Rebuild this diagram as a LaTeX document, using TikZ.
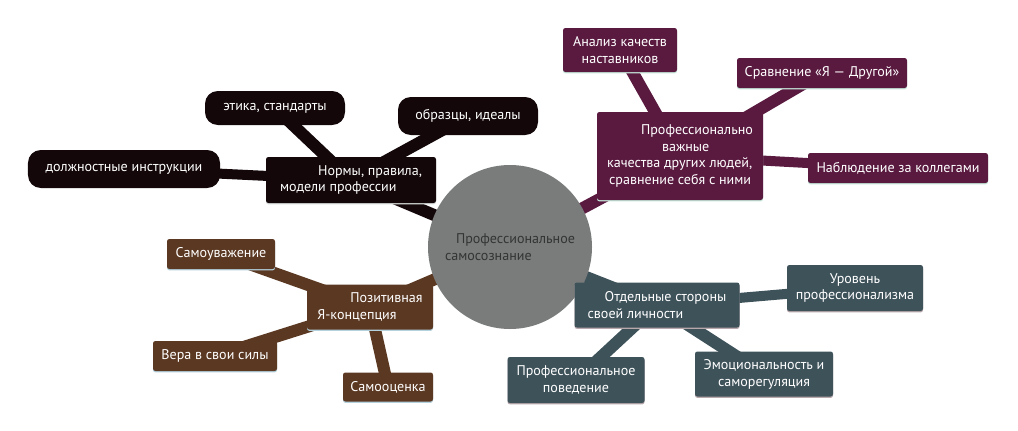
\documentclass[tikz,border=0pt]{standalone}
\usepackage{fontspec}
\setmainfont{PT Sans}
\usetikzlibrary{backgrounds,shadows}
\definecolor{normcol}{HTML}{130709}
\definecolor{qualcol}{HTML}{5A1A40}
\definecolor{selfcol}{HTML}{5B3822}
\definecolor{sidecol}{HTML}{3E525A}
\definecolor{hubcol}{HTML}{7A7C7C}
\definecolor{hubtext}{HTML}{333535}
\definecolor{normline}{HTML}{D8DCDC}
\definecolor{qualline}{HTML}{C4E6D8}
\definecolor{selfline}{HTML}{B4D2DE}
\definecolor{sideline}{HTML}{B8A8AC}
\begin{document}
\begin{tikzpicture}[x=0.25mm, y=-0.25mm,
    every node/.style={font=\fontsize{10}{12}\selectfont, text=white, inner sep=0.5mm},
    hub/.style={circle, fill=hubcol, text=hubtext, minimum size=41mm, align=left},
    roundbox/.style={rectangle, rounded corners=3.2mm, fill=normcol, align=center},
    normbox/.style={rectangle, rounded corners=0.6mm, fill=normcol, align=left,
      general shadow={shadow yshift=-1pt, fill=normline}},
    qualbox/.style={rectangle, rounded corners=0.6mm, fill=qualcol, align=center,
      general shadow={shadow yshift=-1pt, fill=qualline}},
    selfbox/.style={rectangle, rounded corners=0.6mm, fill=selfcol, align=center,
      general shadow={shadow yshift=-1pt, fill=selfline}},
    sidebox/.style={rectangle, rounded corners=0.6mm, fill=sidecol, align=center,
      general shadow={shadow yshift=-1pt, fill=sideline}},
    link/.style={line width=3mm}]
  \useasboundingbox (0,0) rectangle (1018,430);
  % centre
  \node[hub] (core) at (510,247) {\hspace*{2.75mm}Профессиональное\\самосознание};
  % norms
  \node[normbox, minimum width=42.5mm, minimum height=11.5mm] (norms) at (351,180)
    {\hspace*{9.5mm}Нормы, правила,\\модели профессии};
  \node[roundbox, minimum width=35mm, minimum height=8.5mm] (ethics) at (275,108) {этика, стандарты};
  \node[roundbox, minimum width=35mm, minimum height=9.5mm] (ideals) at (468,116) {образцы, идеалы};
  \node[roundbox, minimum width=48mm, minimum height=9.5mm] (duties) at (124,169) {должностные инструкции};
  % qualities of others
  \node[qualbox, minimum width=41.5mm, minimum height=22mm, align=left] (others) at (680,156)
    {\hspace*{8.5mm}Профессионально\\\hspace*{13.75mm}важные\\качества других людей,\\\hspace*{0.5mm}сравнение себя с ними};
  \node[qualbox, minimum width=28.5mm, minimum height=11mm] (mentors) at (620,50) {Анализ качеств\\наставников};
  \node[qualbox, minimum width=42.5mm, minimum height=7.5mm] (compare) at (822,73) {Сравнение «Я — Другой»};
  \node[qualbox, minimum width=45mm, minimum height=7.5mm] (watch) at (898,168) {Наблюдение за коллегами};
  % self-concept
  \node[selfbox, minimum width=31.5mm, minimum height=11.25mm, align=left] (concept) at (370,307)
    {\hspace*{8.25mm}Позитивная\\Я-концепция};
  \node[selfbox, minimum width=27mm, minimum height=7.5mm] (respect) at (221,254) {Самоуважение};
  \node[selfbox, minimum width=31mm, minimum height=7.5mm] (faith) at (215,356) {Вера в свои силы};
  \node[selfbox, minimum width=22.5mm, minimum height=7.25mm] (rating) at (388,387) {Самооценка};
  % sides of personality
  \node[sidebox, minimum width=41.25mm, minimum height=11.25mm, align=left] (sides) at (657,305)
    {\hspace*{4.25mm}Отдельные стороны\\своей личности};
  \node[sidebox, minimum width=34mm, minimum height=11.5mm] (level) at (855,288) {Уровень\\профессионализма};
  \node[sidebox, minimum width=34.25mm, minimum height=11.5mm] (conduct) at (576,380) {Профессиональное\\поведение};
  \node[sidebox, minimum width=34.5mm, minimum height=11.25mm] (emotion) at (764,374) {Эмоциональность и\\саморегуляция};
  \begin{scope}[on background layer]
    \draw[link, normcol] (core.center) -- (norms.center);
    \draw[link, normcol] (ethics.center) -- (norms.center);
    \draw[link, normcol] (ideals.center) -- (norms.center);
    \draw[link, normcol, line width=2.5mm] (duties.center) -- (norms.center);
    \draw[link, qualcol] (core.center) -- (others.center);
    \draw[link, qualcol] (mentors.center) -- (others.center);
    \draw[link, qualcol] (compare.center) -- (others.center);
    \draw[link, qualcol, line width=2.5mm] (watch.center) -- (others.center);
    \draw[link, selfcol] (core.center) -- (concept.center);
    \draw[link, selfcol] (respect.center) -- (concept.center);
    \draw[link, selfcol] (faith.center) -- (concept.center);
    \draw[link, selfcol] (rating.center) -- (concept.center);
    \draw[link, sidecol] (core.center) -- (sides.center);
    \draw[link, sidecol, line width=2.5mm] (level.center) -- (sides.center);
    \draw[link, sidecol] (conduct.center) -- (sides.center);
    \draw[link, sidecol] (emotion.center) -- (sides.center);
  \end{scope}
\end{tikzpicture}
\end{document}
